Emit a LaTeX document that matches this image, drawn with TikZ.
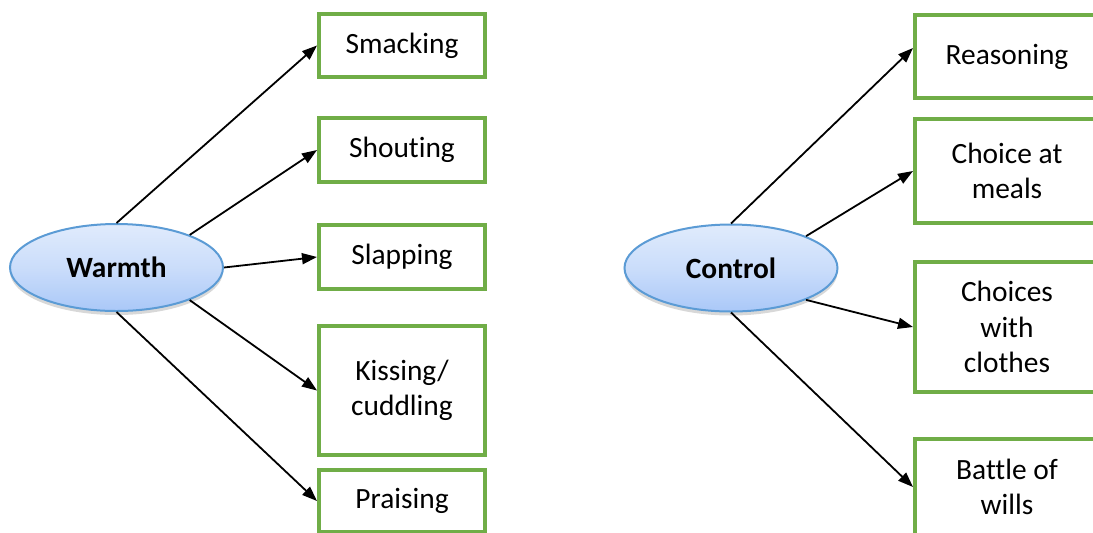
\documentclass[tikz,border=0pt]{standalone}
\usepackage{fontspec}
\setmainfont{Carlito}[Ligatures=NoCommon]
\usepackage{tikz}
\usetikzlibrary{arrows.meta,shapes.geometric,shadows}

\definecolor{boxgreen}{RGB}{112,173,71}
\definecolor{ovalline}{RGB}{91,155,213}
\definecolor{ovaltop}{RGB}{224,235,252}
\definecolor{ovalbottom}{RGB}{170,200,248}

\begin{document}
\begin{tikzpicture}[x=0.5pt, y=-0.5pt,
    font=\fontsize{14.7pt}{17.7pt}\selectfont,
    box/.style={rectangle, draw=boxgreen, line width=2pt, fill=white, align=center, inner sep=0pt},
    oval/.style={ellipse, draw=ovalline, line width=1pt, top color=ovaltop, bottom color=ovalbottom,
        middle color=ovaltop!60!ovalbottom,
        minimum width=106.5pt, minimum height=43.5pt, inner sep=0pt, font=\fontsize{14.7pt}{17.7pt}\selectfont\bfseries,
        drop shadow={shadow xshift=0pt, shadow yshift=-2pt, fill=black!30}},
    link/.style={-{Triangle[length=7.5pt, width=5.5pt]}, line width=0.9pt}]
    \clip (0,0) rectangle (1093,532);

    % left side
    \node (warmth) [oval] at (116.5,267.5) {Warmth};
    \node (smack) [box, minimum width=83pt, minimum height=31.5pt] at (402,45.5) {Smacking};
    \node (shout) [box, minimum width=83pt, minimum height=32pt] at (402,150) {Shouting};
    \node (slap) [box, minimum width=83pt, minimum height=32pt] at (402,257) {Slapping};
    \node (kiss) [box, minimum width=83pt, minimum height=64.5pt] at (402,390.5) {Kissing/\\cuddling};
    \node (praise) [box, minimum width=83pt, minimum height=31pt] at (402,501) {Praising};

    % right side
    \node (control) [oval] at (731,268) {Control};
    \node (reason) [box, minimum width=92pt, minimum height=41.5pt] at (1007,56.5) {Reasoning};
    \node (meals) [box, minimum width=92pt, minimum height=52pt] at (1007,171) {Choice at\\meals};
    \node (clothes) [box, minimum width=92pt, minimum height=65pt] at (1007,327) {Choices\\with\\clothes};
    \node (wills) [box, minimum width=92pt, minimum height=48pt] at (1007,487) {Battle of\\wills};

    \draw[link] (warmth.north) -- (smack.west);
    \draw[link] (warmth.24) -- (shout.west);
    \draw[link] (warmth.east) -- (slap.west);
    \draw[link] (warmth.-24) -- (kiss.west);
    \draw[link] (warmth.south) -- (praise.west);

    \draw[link] (control.north) -- ([yshift=4.25pt]reason.west);
    \draw[link] (control.23) -- (meals.west);
    \draw[link] (control.-23) -- (clothes.west);
    \draw[link] (control.south) -- (wills.west);
\end{tikzpicture}
\end{document}
